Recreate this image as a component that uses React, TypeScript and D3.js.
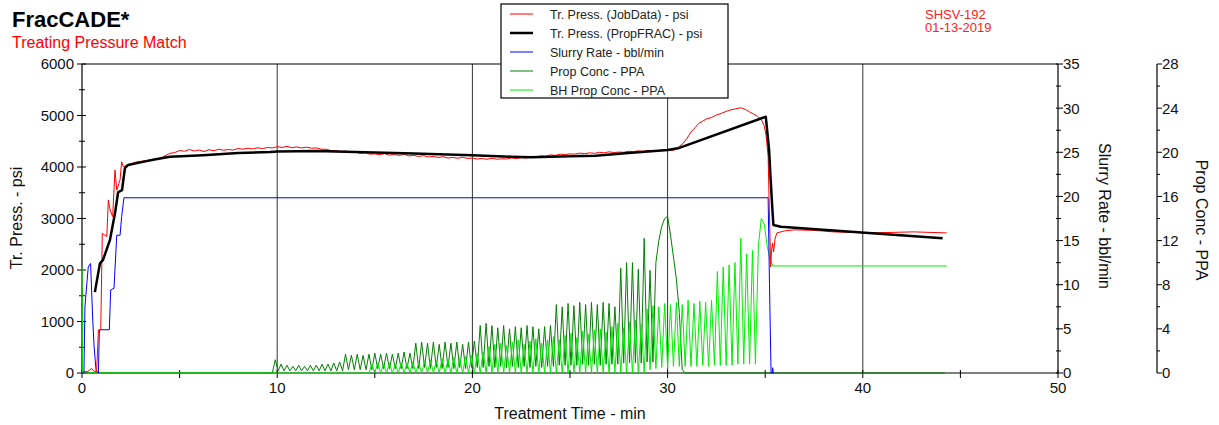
import * as d3 from "d3";
import { useEffect, useRef } from "react";

type Pt = [number, number];

// ---- data (time in min) ----
const jobPressure: Pt[] = [
  [0.05, 20], [0.3, 30], [0.5, 90], [0.6, 40], [0.75, 25], [0.84, 835], [0.96, 835], [1.04, 2710],
  [1.27, 2650], [1.35, 3360], [1.44, 3165], [1.57, 3035], [1.69, 3940], [1.78, 3550], [1.95, 3750],
  [2.03, 4100], [2.12, 4005], [2.4, 4050], [2.8, 4100], [3.2, 4120], [3.6, 4140],
  [4.0, 4170], [4.25, 4215], [4.5, 4265], [4.75, 4280], [5.0, 4320], [5.25, 4305], [5.5, 4340], [5.75, 4310],
  [6.0, 4330], [6.25, 4300], [6.5, 4335], [6.75, 4315], [7.0, 4345], [7.25, 4325], [7.5, 4340], [7.75, 4330],
  [8.0, 4360], [8.25, 4345], [8.5, 4365], [8.75, 4350], [9.0, 4375], [9.25, 4355], [9.5, 4380], [9.75, 4370],
  [10.0, 4395], [10.25, 4380], [10.5, 4400], [10.75, 4375], [11.0, 4390], [11.25, 4370], [11.5, 4385], [11.75, 4365],
  [12.0, 4370], [12.25, 4345], [12.5, 4345], [12.75, 4320], [13.0, 4320], [13.25, 4300], [13.5, 4310], [13.75, 4285],
  [14.0, 4290], [14.25, 4265], [14.5, 4275], [14.75, 4250], [15.0, 4255], [15.25, 4240], [15.5, 4260], [15.75, 4230],
  [16.0, 4240], [16.25, 4225], [16.5, 4245], [16.75, 4215], [17.0, 4225], [17.25, 4205], [17.5, 4220], [17.75, 4195],
  [18.0, 4205], [18.25, 4185], [18.5, 4200], [18.75, 4175], [19.0, 4185], [19.25, 4170], [19.5, 4190], [19.75, 4165],
  [20.0, 4175], [20.25, 4155], [20.5, 4165], [20.75, 4150], [21.0, 4170], [21.25, 4150], [21.5, 4160], [21.75, 4155],
  [22.0, 4175], [22.25, 4165], [22.5, 4180], [22.75, 4175], [23.0, 4200], [23.25, 4195], [23.5, 4215], [23.75, 4210],
  [24.0, 4235], [24.25, 4225], [24.5, 4250], [24.75, 4240], [25.0, 4255], [25.25, 4250], [25.5, 4270], [25.75, 4260],
  [26.0, 4275], [26.25, 4265], [26.5, 4285], [26.75, 4275], [27.0, 4295], [27.25, 4280], [27.5, 4290], [27.75, 4285],
  [28.0, 4305], [28.25, 4295], [28.5, 4315], [28.75, 4300], [29.0, 4325], [29.25, 4310], [29.5, 4320], [29.75, 4315],
  [30.0, 4335], [30.25, 4320], [30.4, 4340], [30.8, 4460], [31.0, 4560], [31.2, 4680], [31.4, 4760], [31.6, 4850],
  [31.8, 4890], [32.0, 4935], [32.25, 4960], [32.5, 5010], [32.75, 5040], [33.0, 5080], [33.25, 5110], [33.5, 5130],
  [33.75, 5150], [34.0, 5115], [34.2, 5070], [34.4, 5030], [34.6, 4985], [34.8, 4920], [34.95, 4800], [35.05, 4600],
  [35.15, 4200], [35.2, 3360], [35.28, 2060], [35.33, 2400], [35.38, 2520], [35.43, 2350], [35.5, 2600],
  [35.6, 2720], [36.0, 2760], [36.5, 2780], [37.5, 2770], [38.5, 2740], [39.5, 2730], [40.2, 2720],
  [41.5, 2730], [42.6, 2740], [44.3, 2720],
];

const fracPressure: Pt[] = [
  [0.66, 1570], [0.92, 2130], [1.07, 2190], [1.43, 2580], [1.69, 3100], [1.85, 3510], [2.05, 3550],
  [2.2, 3980], [2.36, 4040], [3.0, 4090], [3.64, 4140], [4.5, 4200], [6.2, 4230], [8.0, 4270],
  [9.64, 4290], [10.0, 4300], [12.0, 4310], [13.0, 4300], [15.0, 4280], [17.0, 4260], [20.0, 4230],
  [22.0, 4200], [23.0, 4190], [25.0, 4210], [26.3, 4220], [28.0, 4270], [30.0, 4330], [30.6, 4370],
  [35.03, 4977], [35.2, 4330], [35.28, 3750], [35.37, 3165], [35.42, 2875], [35.8, 2840], [44.09, 2615],
];

const slurryRate: Pt[] = [
  [0, 0], [0.1, 0], [0.15, 7.5], [0.32, 12.0], [0.44, 12.4], [0.55, 6.0], [0.62, 3.0], [0.72, 0.3],
  [0.84, 0], [0.89, 4.9], [1.4, 4.9], [1.47, 9.4], [1.64, 9.6], [1.78, 15.6], [1.95, 15.6],
  [2.03, 17.7], [2.15, 19.85], [35.15, 19.85], [35.22, 10], [35.3, 0], [35.36, 0], [35.38, 0.6], [35.42, 0],
];

// surface prop conc, sampled every 0.15 min from 9.75 min
const sampleStep = 0.15;
const propConcHead: Pt[] = [[0, 7.7], [0.02, 0], [9.75, 0]];
const propConcStart = 9.75;
const propConcSamples = [
  0, 1.2, 0.2, 0.8, 0.2, 0.7, 0.2, 0.6, 0.2, 0.7, 0.2, 0.6, 0.2, 0.7, 0.2, 0.7, 0.2, 0.8, 0.2, 0.8, 0.2, 0.9, 0.2, 1.0, 0.2,
  1.7, 0.3, 1.6, 0.3, 1.7, 0.3, 1.6, 0.3, 1.7, 0.3, 1.8, 0.4, 1.7, 0.4, 1.8, 0.4, 1.7, 0.4, 1.8, 0.4, 1.9, 0.4, 1.8, 0.4,
  2.7, 0.4, 2.8, 0.5, 2.7, 0.4, 2.8, 0.5, 2.6, 0.4, 2.8, 0.5, 2.7, 0.4, 2.8, 0.5, 2.6, 0.4, 2.8, 0.5, 2.9, 0.5,
  4.3, 0.5, 4.5, 0.6, 4.3, 0.5, 4.1, 0.6, 4.3, 0.5, 4.0, 0.6, 4.2, 0.5, 4.1, 0.6, 4.3, 0.5, 4.2, 0.6, 4.0, 0.5, 4.2, 0.6, 4.3, 0.6,
  6.2, 0.7, 6.0, 0.7, 6.3, 0.7, 6.1, 0.7, 6.4, 0.8, 6.2, 0.7, 6.4, 0.8, 6.2, 0.7, 6.4, 0.8, 6.3, 0.8, 6.0, 0.8,
  9.5, 0.9, 10.0, 0.9, 10.0, 0.9, 9.4, 0.9, 12.2, 1.0, 9.3, 1.0,
  10.0, 12.0, 13.3, 14.0, 14.2, 12.5, 10.5, 8.5, 5.5, 0.3, 0,
];
const propConcTail: Pt[] = [[44.2, 0]];

// bottom-hole prop conc, sampled every 0.15 min from 14.7 min
const bhConcHead: Pt[] = [[0, 9.6], [0.02, 0], [14.7, 0]];
const bhConcStart = 14.7;
const bhConcSamples = [
  0, 0.8, 0, 0.9, 0, 0.8, 0, 0.9, 0, 0.8, 0, 0.9, 0, 0.9, 0, 1.0, 0, 0.9, 0, 1.1, 0, 1.2, 0, 1.1, 0, 1.3, 0, 1.2, 0, 1.4, 0,
  1.3, 0, 1.5, 0, 1.6, 0, 1.8, 0, 1.9, 0,
  2.4, 0, 2.6, 0, 2.7, 0, 2.5, 0, 2.8, 0, 3.0, 0, 2.6, 0, 2.9, 0, 3.1, 0, 2.7, 0, 3.0, 0, 3.3, 0, 3.0, 0, 3.4, 0,
  3.6, 0, 3.2, 0, 3.8, 0, 3.5, 0, 3.9, 0, 4.0, 0, 3.7, 0, 4.2, 0, 4.5, 0, 4.1, 0, 4.6, 0, 4.8, 0, 4.4, 0,
  5.8, 0.3, 6.1, 0.4, 6.0, 0.5, 6.3, 0.5, 6.2, 0.6, 6.4, 0.6, 6.2, 0.6, 6.6, 0.6, 6.3, 0.6, 6.5, 0.7, 6.4, 0.6, 6.6, 0.7,
  9.2, 0.7, 9.6, 0.7, 9.8, 0.7, 10.0, 0.8, 12.2, 0.8, 10.8, 0.8, 11.1, 0.8,
  11.5, 14.0, 13.5, 11.5, 10.3, 9.7,
];
const bhConcTail: Pt[] = [[44.3, 9.7]];

const timeLabels = [0, 10, 20, 30, 40, 50];
const pressLabels = [0, 1000, 2000, 3000, 4000, 5000, 6000];
const rateLabels = [0, 5, 10, 15, 20, 25, 30, 35];
const concLabels = [0, 4, 8, 12, 16, 20, 24, 28];

const legendItems = [
  { label: "Tr. Press. (JobData) - psi", color: "#ff0000", width: 1 },
  { label: "Tr. Press. (PropFRAC) - psi", color: "#000000", width: 2.5 },
  { label: "Slurry Rate - bbl/min", color: "#0000ff", width: 1 },
  { label: "Prop Conc - PPA", color: "#008000", width: 1 },
  { label: "BH Prop Conc - PPA", color: "#00ee00", width: 1 },
];

const FONT = "'Liberation Sans', Arial, sans-serif";

const sampled = (start: number, vals: number[]): Pt[] =>
  vals.map((v, i) => [start + i * sampleStep, v] as Pt);

const App = () => {
  const svgRef = useRef<SVGSVGElement | null>(null);

  useEffect(() => {
    const svg = d3.select(svgRef.current);
    svg.selectAll("*").remove();

    const left = 82, right = 1058, top = 64, bottom = 373;
    const concAxisX = 1157;

    const x = d3.scaleLinear().domain([0, 50]).range([left, right]);
    const yP = d3.scaleLinear().domain([0, 6000]).range([bottom, top]);
    const yR = d3.scaleLinear().domain([0, 35]).range([bottom, top]);
    const yC = d3.scaleLinear().domain([0, 28]).range([bottom, top]);

    svg.append("rect").attr("width", 1219).attr("height", 425).attr("fill", "#fff");

    // vertical grid lines
    svg.selectAll(".grid")
      .data([10, 20, 30, 40])
      .join("line")
      .attr("x1", d => x(d)).attr("x2", d => x(d))
      .attr("y1", top).attr("y2", bottom)
      .attr("stroke", "#333").attr("stroke-width", 1);

    // frame / axis lines
    const frame = [
      [left, top, right, top],
      [left, top, left, bottom],
      [left, bottom, right, bottom],
      [right, top, right, bottom],
      [concAxisX, top, concAxisX, bottom],
    ];
    svg.selectAll(".frame")
      .data(frame)
      .join("line")
      .attr("x1", d => d[0]).attr("y1", d => d[1]).attr("x2", d => d[2]).attr("y2", d => d[3])
      .attr("stroke", "#000").attr("stroke-width", 1.2);

    const ticks = svg.append("g").attr("stroke", "#000").attr("stroke-width", 1);
    // left minor / major ticks
    d3.range(0, 6001, 500).forEach(v => {
      const major = v % 1000 === 0;
      ticks.append("line")
        .attr("x1", left - (major ? 5 : 3)).attr("x2", left + (major ? 4 : 3))
        .attr("y1", yP(v)).attr("y2", yP(v));
    });
    d3.range(0, 50.1, 5).forEach(v => {
      ticks.append("line")
        .attr("x1", x(v)).attr("x2", x(v))
        .attr("y1", bottom - 3).attr("y2", bottom + 5);
    });
    d3.range(0, 35.1, 2.5).forEach(v => {
      const major = v % 5 === 0;
      ticks.append("line")
        .attr("x1", right - 2).attr("x2", right + (major ? 5 : 3))
        .attr("y1", yR(v)).attr("y2", yR(v));
    });
    d3.range(0, 28.1, 2).forEach(v => {
      const major = v % 4 === 0;
      ticks.append("line")
        .attr("x1", concAxisX).attr("x2", concAxisX + (major ? 5 : 3))
        .attr("y1", yC(v)).attr("y2", yC(v));
    });

    const labelStyle = (sel: d3.Selection<SVGTextElement, number, SVGSVGElement | null, unknown>) =>
      sel.attr("font-family", FONT).attr("font-size", 15).attr("fill", "#111").attr("dy", "0.36em");

    svg.selectAll(".plab").data(pressLabels).join("text")
      .attr("x", left - 8).attr("y", d => yP(d)).attr("text-anchor", "end")
      .text(d => d).call(labelStyle);
    svg.selectAll(".tlab").data(timeLabels).join("text")
      .attr("x", d => x(d)).attr("y", 388).attr("text-anchor", "middle")
      .text(d => d).call(labelStyle);
    svg.selectAll(".rlab").data(rateLabels).join("text")
      .attr("x", right + 5).attr("y", d => yR(d)).attr("text-anchor", "start")
      .text(d => d).call(labelStyle);
    svg.selectAll(".clab").data(concLabels).join("text")
      .attr("x", concAxisX + 5).attr("y", d => yC(d)).attr("text-anchor", "start")
      .text(d => d).call(labelStyle);

    // axis titles
    const title = (tx: number, ty: number, rot: number, txt: string) =>
      svg.append("text")
        .attr("transform", `translate(${tx},${ty}) rotate(${rot})`)
        .attr("text-anchor", "middle").attr("dy", "0.36em")
        .attr("font-family", FONT).attr("font-size", 16).attr("fill", "#111")
        .text(txt);
    title(16, 218, -90, "Tr. Press. - psi");
    title(1105, 216, 90, "Slurry Rate - bbl/min");
    title(1202, 220, 90, "Prop Conc - PPA");
    title(570, 413, 0, "Treatment Time - min");

    // series
    const lineP = d3.line<Pt>().x(d => x(d[0])).y(d => yP(d[1]));
    const lineR = d3.line<Pt>().x(d => x(d[0])).y(d => yR(d[1]));
    const lineC = d3.line<Pt>().x(d => x(d[0])).y(d => yC(d[1]));

    const propConc = [...propConcHead, ...sampled(propConcStart, propConcSamples), ...propConcTail];
    const bhConc = [...bhConcHead, ...sampled(bhConcStart, bhConcSamples), ...bhConcTail];

    const series: { d: string | null; color: string; width: number }[] = [
      { d: lineC(propConc), color: "#008000", width: 1 },
      { d: lineC(bhConc), color: "#00ee00", width: 1 },
      { d: lineR(slurryRate), color: "#0000ff", width: 1 },
      { d: lineP(jobPressure), color: "#ff0000", width: 1 },
      { d: lineP(fracPressure), color: "#000000", width: 2.5 },
    ];
    svg.selectAll(".series").data(series).join("path")
      .attr("d", d => d.d ?? "")
      .attr("fill", "none")
      .attr("stroke", d => d.color)
      .attr("stroke-width", d => d.width)
      .attr("stroke-linejoin", "round");

    // legend
    const lg = svg.append("g");
    lg.append("rect")
      .attr("x", 501).attr("y", 4).attr("width", 227).attr("height", 94)
      .attr("fill", "#fff").attr("stroke", "#000").attr("stroke-width", 1.2);
    legendItems.forEach((it, i) => {
      const ly = 14 + i * 19;
      lg.append("line").attr("x1", 510).attr("x2", 533).attr("y1", ly).attr("y2", ly)
        .attr("stroke", it.color).attr("stroke-width", it.width);
      lg.append("text").attr("x", 550).attr("y", ly).attr("dy", "0.36em")
        .attr("font-family", FONT).attr("font-size", 12.5).attr("fill", "#222")
        .text(it.label);
    });

    // headers
    svg.append("text").attr("x", 12).attr("y", 27)
      .attr("font-family", FONT).attr("font-size", 22).attr("font-weight", "bold").attr("fill", "#000")
      .text("FracCADE*");
    svg.append("text").attr("x", 12).attr("y", 48)
      .attr("font-family", FONT).attr("font-size", 16).attr("fill", "#ff0000")
      .text("Treating Pressure Match");
    svg.append("text").attr("x", 925).attr("y", 19)
      .attr("font-family", FONT).attr("font-size", 13).attr("fill", "#ff2020")
      .text("SHSV-192");
    svg.append("text").attr("x", 925).attr("y", 32)
      .attr("font-family", FONT).attr("font-size", 13).attr("fill", "#ff2020")
      .text("01-13-2019");
  }, []);

  return (
    <svg
      ref={svgRef}
      width={1219}
      height={425}
      style={{ position: "absolute", left: 0, top: 0 }}
    />
  );
};

export default App;
